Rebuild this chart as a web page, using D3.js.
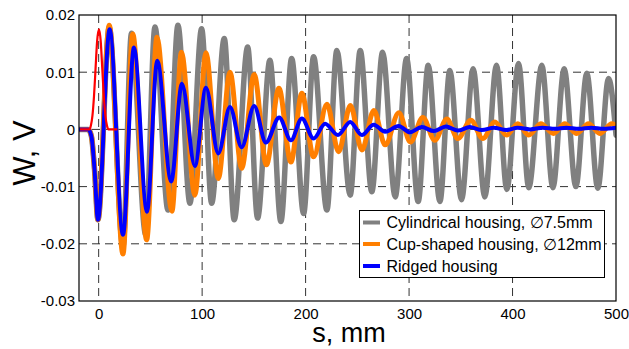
<!DOCTYPE html>
<html><head><meta charset="utf-8">
<script src="https://cdn.jsdelivr.net/npm/d3@7"></script>
<style>
html,body{margin:0;padding:0;background:#fff;}
svg{display:block;}
text{font-family:Arial,"Liberation Sans",sans-serif;fill:#000;}
</style></head>
<body>
<svg id="chart" width="629" height="349"></svg>
<script>
// ---- data ----
const xTicks = [0, 100, 200, 300, 400, 500];
const yTicks = [0.02, 0.01, 0, -0.01, -0.02, -0.03];
const seriesNames = ["Cylindrical housing, \u22057.5mm", "Cup-shaped housing, \u220512mm", "Ridged housing"];
const seriesColors = ["#808080", "#ff7f00", "#0000ff"];

const graySerie = [[-18,0],[-10,0],[-7,-0.0012],[-4,-0.007],[-0.7,-0.0158],[10.2,0.0178],[23.5,-0.0205],[31.7,0.0168],[45.5,-0.0184],[54.4,0.0179],[67,-0.0141],[76.6,0.0182],[88.2,-0.0129],[99.5,0.0176],[109.2,-0.0129],[121.4,0.0159],[131,-0.0158],[144,0.0144],[153.6,-0.0155],[165.5,0.0121],[176.1,-0.0161],[186.5,0.0124],[198.1,-0.0147],[207.7,0.0127],[220.6,-0.0141],[230.2,0.0138],[243.1,-0.0115],[252.8,0.0138],[264,-0.0109],[274.4,0.0135],[286.6,-0.0118],[297.6,0.0124],[308.8,-0.0126],[318.5,0.0112],[329.8,-0.0126],[339.4,0.0103],[350.7,-0.0123],[361.9,0.0106],[373.2,-0.0118],[384.5,0.0112],[394.5,-0.0105],[405.8,0.0115],[415.7,-0.0102],[428.3,0.0112],[439,-0.0102],[449.9,0.0106],[461.2,-0.0100],[471.8,0.0098],[482.4,-0.0103],[492.8,0.0089],[500,-0.001]];

const orangeSerie = [[-18,0],[-10,0],[-7,-0.0012],[-4,-0.007],[-0.7,-0.0158],[10.2,0.0182],[23.5,-0.0218],[32.9,0.0167],[46.4,-0.0193],[56.3,0.0161],[70.8,-0.0143],[80,0.0135],[93,-0.0115],[103.7,0.0134],[115.6,-0.0086],[126.9,0.0100],[138.2,-0.0068],[150.3,0.0096],[162.1,-0.0062],[174.2,0.0072],[185.8,-0.0057],[196.4,0.0063],[207.7,-0.0048],[220.6,0.0044],[231.9,-0.0039],[243.3,0.0042],[254.4,-0.0036],[266,0.0033],[276.9,-0.0027],[290.1,0.0029],[301.3,-0.0022],[313.3,0.0021],[324.9,-0.0019],[336.5,0.0018],[347.2,-0.0016],[359.7,0.0016],[371.3,-0.0016],[382.9,0.0013],[394.2,-0.0010],[405.1,0.0010],[415.7,-0.0010],[427.3,0.0010],[439.6,-0.0007],[450.5,0.0010],[462.1,-0.0007],[473.4,0.0010],[484.3,-0.0007],[496,0.0010],[500,0.0007]];

const blueSerie = [[-18,0],[-10,0],[-7,-0.0012],[-4,-0.007],[-0.7,-0.0158],[10.6,0.0175],[23.5,-0.0184],[34.1,0.0143],[46.7,-0.0144],[56.6,0.0120],[70.1,-0.0091],[80.5,0.0080],[93,-0.0064],[103.7,0.0073],[115.6,-0.0042],[126.9,0.0039],[138.2,-0.0031],[150.3,0.0041],[161.6,-0.0023],[174.5,0.0021],[185.8,-0.0019],[196.4,0.0019],[207.7,-0.0016],[218.9,0.0010],[231.2,-0.0010],[243.1,0.0013],[254.4,-0.0010],[265.7,0.0008],[276.9,-0.0004],[289.9,0.0006],[300.8,-0.0005],[312.4,0.0004],[324,-0.0003],[335.6,0.0005],[347.2,-0.0002],[358.7,0.0004],[370.3,-0.0001],[382,0.0003],[394,-0.0001],[405,0.0003],[417,0.0000],[429,0.0003],[441,0.0001],[452,0.0003],[464,0.0001],[476,0.0003],[488,0.0001],[500,0.0003]];

const redPulse = [[-18,0],[-9,0],[-7.5,0.0007],[-6,0.0024],[-4.5,0.0058],[-3,0.0106],[-1.5,0.0154],[0.3,0.0175],[2,0.0154],[3.5,0.0106],[5,0.0058],[6.5,0.0024],[8,0.0007],[9.5,0],[18,0]];

// ---- layout ----
const L = 79, R = 616, T = 15, B = 301;
const svg = d3.select("#chart");
const x = d3.scaleLinear().domain([-19, 500]).range([L, R]);
const y = d3.scaleLinear().domain([-0.03, 0.02]).range([B, T]);

svg.append("defs").append("clipPath").attr("id","clip")
  .append("rect").attr("x",L).attr("y",T).attr("width",R-L).attr("height",B-T);

// grid
const grid = svg.append("g");
grid.selectAll("line.v").data(xTicks.filter(d => d < 500)).join("line")
  .attr("x1", d => x(d)).attr("x2", d => x(d)).attr("y1", T).attr("y2", B)
  .attr("stroke", "#333").attr("stroke-width", 1).attr("stroke-dasharray", "8,5");
grid.selectAll("line.h").data(yTicks.filter(d => d < 0.02 && d > -0.03)).join("line")
  .attr("y1", d => y(d)).attr("y2", d => y(d)).attr("x1", L).attr("x2", R)
  .attr("stroke", "#333").attr("stroke-width", 1).attr("stroke-dasharray", "8,5");

// axes (labels only, no tick marks)
const xAxis = d3.axisBottom(x).tickValues(xTicks).tickSize(0).tickPadding(7).tickFormat(d3.format("d"));
const gx = svg.append("g").attr("transform", `translate(0,${B})`).call(xAxis);
gx.select(".domain").remove();
gx.selectAll("text").attr("font-size", 15).attr("font-family", "Arial, 'Liberation Sans', sans-serif").attr("fill","#000");

const yAxis = d3.axisLeft(y).tickValues(yTicks).tickSize(0).tickPadding(4).tickFormat(d => d === 0 ? "0" : d3.format(".2f")(d).replace("\u2212","-"));
const gy = svg.append("g").attr("transform", `translate(${L},0)`).call(yAxis);
gy.select(".domain").remove();
gy.selectAll("text").attr("font-size", 15).attr("font-family", "Arial, 'Liberation Sans', sans-serif").attr("fill","#000");

// series
const line = d3.line().x(d => x(d[0])).y(d => y(d[1])).curve(d3.curveMonotoneX);
const plot = svg.append("g").attr("clip-path", "url(#clip)");
const lineSeries = [graySerie, orangeSerie, blueSerie];
const widths = [5.5, 5, 4];
lineSeries.forEach((s, i) => {
  plot.append("path").datum(s).attr("d", line).attr("fill", "none")
    .attr("stroke", seriesColors[i]).attr("stroke-width", widths[i])
    .attr("stroke-linejoin", "round").attr("stroke-linecap", "round");
});
plot.append("path").datum(redPulse).attr("d", line).attr("fill", "none")
  .attr("stroke", "#ff0000").attr("stroke-width", 2.2).attr("stroke-linejoin","round");

// frame
svg.append("rect").attr("x", L).attr("y", T).attr("width", R - L).attr("height", B - T)
  .attr("fill", "none").attr("stroke", "#000").attr("stroke-width", 1.2);

// titles
svg.append("text").attr("x", 349).attr("y", 342).attr("text-anchor", "middle")
  .attr("font-size", 27).text("s, mm");
svg.append("text").attr("transform", "translate(35,153) rotate(-90)").attr("text-anchor", "middle")
  .attr("font-size", 31).text("W, V");

// legend
const lg = svg.append("g");
lg.append("rect").attr("x", 359.5).attr("y", 210.5).attr("width", 245).attr("height", 67)
  .attr("fill", "#fff").attr("stroke", "#000").attr("stroke-width", 1);
const rowY = [222.5, 244, 266];
seriesNames.forEach((n, i) => {
  lg.append("line").attr("x1", 363).attr("x2", 380).attr("y1", rowY[i]).attr("y2", rowY[i])
    .attr("stroke", seriesColors[i]).attr("stroke-width", 4);
  lg.append("text").attr("x", 386.5).attr("y", rowY[i]).attr("dy", "0.36em")
    .attr("font-size", 16).text(n);
});
</script>
</body></html>
